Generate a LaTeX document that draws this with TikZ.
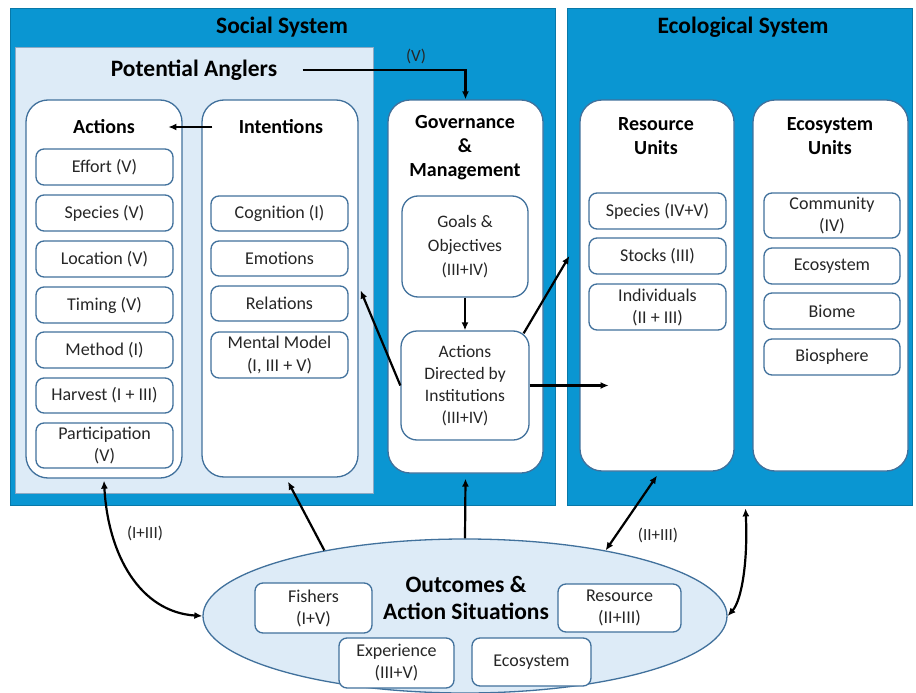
\documentclass[tikz,border=0pt]{standalone}
\usepackage{fontspec}
\setmainfont{Carlito}
\usetikzlibrary{arrows.meta,shapes.geometric,calc}
\definecolor{sysblue}{HTML}{0A96D2}
\definecolor{lightfill}{HTML}{DDEBF7}
\definecolor{edge}{HTML}{41719C}
\begin{document}
\begin{tikzpicture}[x=1pt,y=-1pt,
  sys/.style={draw=sysblue!80!black, fill=sysblue, line width=0.8pt, inner sep=0pt},
  group/.style={draw=edge!60, fill=lightfill, line width=1pt, inner sep=0pt},
  col/.style={draw=edge, fill=white, rounded corners=22pt, line width=1.3pt, inner sep=0pt},
  item/.style={draw=edge, fill=white, rounded corners=8pt, line width=1.3pt, inner sep=0pt, align=center, font=\fontsize{18}{22}\selectfont, text=black!85},
  head/.style={font=\bfseries\fontsize{20}{24}\selectfont, align=center},
  title/.style={font=\bfseries\fontsize{23.5}{27}\selectfont},
  arr/.style={-{Latex[length=8pt,width=7pt]}, line width=2.2pt},
  darr/.style={{Latex[length=8pt,width=7pt]}-{Latex[length=8pt,width=7pt]}, line width=2.2pt},
  lab/.style={font=\fontsize{17}{20}\selectfont, text=black!85}
]
\useasboundingbox[fill=white] (0,0) rectangle (916,693);

% systems
\node[sys, minimum width=545pt, minimum height=497pt] (social) at (282.5,256.5) {};
\node[sys, minimum width=345pt, minimum height=497pt] (eco) at (739.5,256.5) {};
\node[title] (socT) at (282,27) {Social System};
\node[title] (ecoT) at (743,27) {Ecological System};

% potential anglers
\node[group, minimum width=358pt, minimum height=445pt] (pa) at (194,270.5) {};
\node[title] (paT) at (194,70) {Potential Anglers};

% columns
\node[col, minimum width=156pt, minimum height=378pt] (actcol) at (104,289) {};
\node[col, minimum width=156pt, minimum height=377pt] (intcol) at (280,288.5) {};
\node[col, minimum width=155pt, minimum height=373pt] (gov) at (465.5,286.5) {};
\node[col, minimum width=154pt, minimum height=371pt] (rescol) at (657,285.5) {};
\node[col, minimum width=155pt, minimum height=371pt] (ecucol) at (830.5,285.5) {};

\node[head] (actT) at (104,127) {Actions};
\node[head] (intT) at (281,127) {Intentions};
\node[head] (govT) at (465,148) {Governance\\\&\\Management};
\node[head] (resT) at (656,136) {Resource\\Units};
\node[head] (ecuT) at (830,136) {Ecosystem\\Units};

% actions items
\node[item, minimum width=137pt, minimum height=36pt] (effort) at (104.5,167) {Effort (V)};
\node[item, minimum width=137pt, minimum height=36pt] (aspecies) at (104.5,213) {Species (V)};
\node[item, minimum width=137pt, minimum height=36pt] (location) at (104.5,259) {Location (V)};
\node[item, minimum width=137pt, minimum height=36pt] (timing) at (104.5,305) {Timing (V)};
\node[item, minimum width=137pt, minimum height=36pt] (method) at (104.5,350) {Method (I)};
\node[item, minimum width=137pt, minimum height=35pt] (harvest) at (104.5,395.5) {Harvest (I + III)};
\node[item, minimum width=137pt, minimum height=45pt] (particip) at (104.5,445.5) {Participation\\(V)};

% intentions items
\node[item, minimum width=137pt, minimum height=35pt] (cognition) at (279.5,213.5) {Cognition (I)};
\node[item, minimum width=137pt, minimum height=35pt] (emotions) at (279.5,258.5) {Emotions};
\node[item, minimum width=137pt, minimum height=35pt] (relations) at (279.5,303.5) {Relations};
\node[item, minimum width=137pt, minimum height=46pt, font=\fontsize{18}{23}\selectfont] (mental) at (279.5,355) {Mental Model\\(I, III + V)};

% governance items
\node[item, rounded corners=16pt, minimum width=126pt, minimum height=101pt, font=\fontsize{17.5}{24}\selectfont] (goals) at (465,246.5) {Goals \&\\Objectives\\(III+IV)};
\node[item, rounded corners=16pt, minimum width=128pt, minimum height=109pt, font=\fontsize{17.5}{22}\selectfont] (actdir) at (465,385.5) {Actions\\Directed by\\Institutions\\(III+IV)};

% resource items
\node[item, minimum width=137pt, minimum height=36pt] (rspecies) at (657.5,211) {Species (IV+V)};
\node[item, minimum width=137pt, minimum height=36pt] (stocks) at (657.5,256) {Stocks (III)};
\node[item, minimum width=137pt, minimum height=46pt] (individuals) at (657.5,307) {Individuals\\(II + III)};

% ecosystem units items
\node[item, minimum width=136pt, minimum height=45pt] (community) at (832,215.5) {Community\\(IV)};
\node[item, minimum width=136pt, minimum height=36pt] (ecosys) at (832,266) {Ecosystem};
\node[item, minimum width=136pt, minimum height=36pt] (biome) at (832,311) {Biome};
\node[item, minimum width=136pt, minimum height=36pt] (biosphere) at (832,357) {Biosphere};

% outcomes ellipse
\node[ellipse, draw=edge, fill=lightfill, line width=1.3pt, inner sep=0pt, minimum width=524pt, minimum height=154pt] (outc) at (465,616) {};
\node[align=center, font=\bfseries\fontsize{23.5}{27}\selectfont] (outT) at (466,598) {Outcomes \&\\Action Situations};
\node[item, minimum width=117pt, minimum height=50pt] (fishers) at (313.5,608) {Fishers\\(I+V)};
\node[item, minimum width=123pt, minimum height=48pt] (oresource) at (619.5,608) {Resource\\(II+III)};
\node[item, minimum width=115pt, minimum height=50pt] (experience) at (396.5,663) {Experience\\(III+V)};
\node[item, minimum width=119pt, minimum height=48pt] (oecosys) at (531.5,662) {Ecosystem};

% connectors
\draw[arr] ($(paT.east)+(22,0)$) -| (gov.north);
\node[lab] (vlab) at (416,56) {(V)};
\draw[arr] ($(intT.west)+(-23,0)$) -- ($(actT.east)+(30,0)$);
\draw[arr] (goals) -- (actdir);
\draw[arr] (actdir.west) -- ($(relations.east)+(12,-13)$);
\draw[arr] ($(actdir.north east)+(-6,3)$) -- ($(rescol.west |- stocks)+(-10,0)$);
\draw[arr] (actdir.east) -- ($(actdir.east)+(79,0)$);
\draw[arr] (outc.north) -- ($(gov.south)+(0,5)$);
\draw[arr] (outc.155) -- ($(intcol.south)+(8,4)$);
\draw[darr] ($(actcol.south)+(0,2)$) .. controls (108,555) and (140,612) .. (outc.west);
\node[lab] (l13) at (145,533) {(I+III)};
\draw[darr] ($(rescol.south)+(0,4)$) -- (outc.25);
\node[lab] (l23) at (658,535) {(II+III)};
\draw[darr] ($(eco.south)+(6,3)$) .. controls (748,560) and (742,600) .. (outc.east);
\end{tikzpicture}
\end{document}
